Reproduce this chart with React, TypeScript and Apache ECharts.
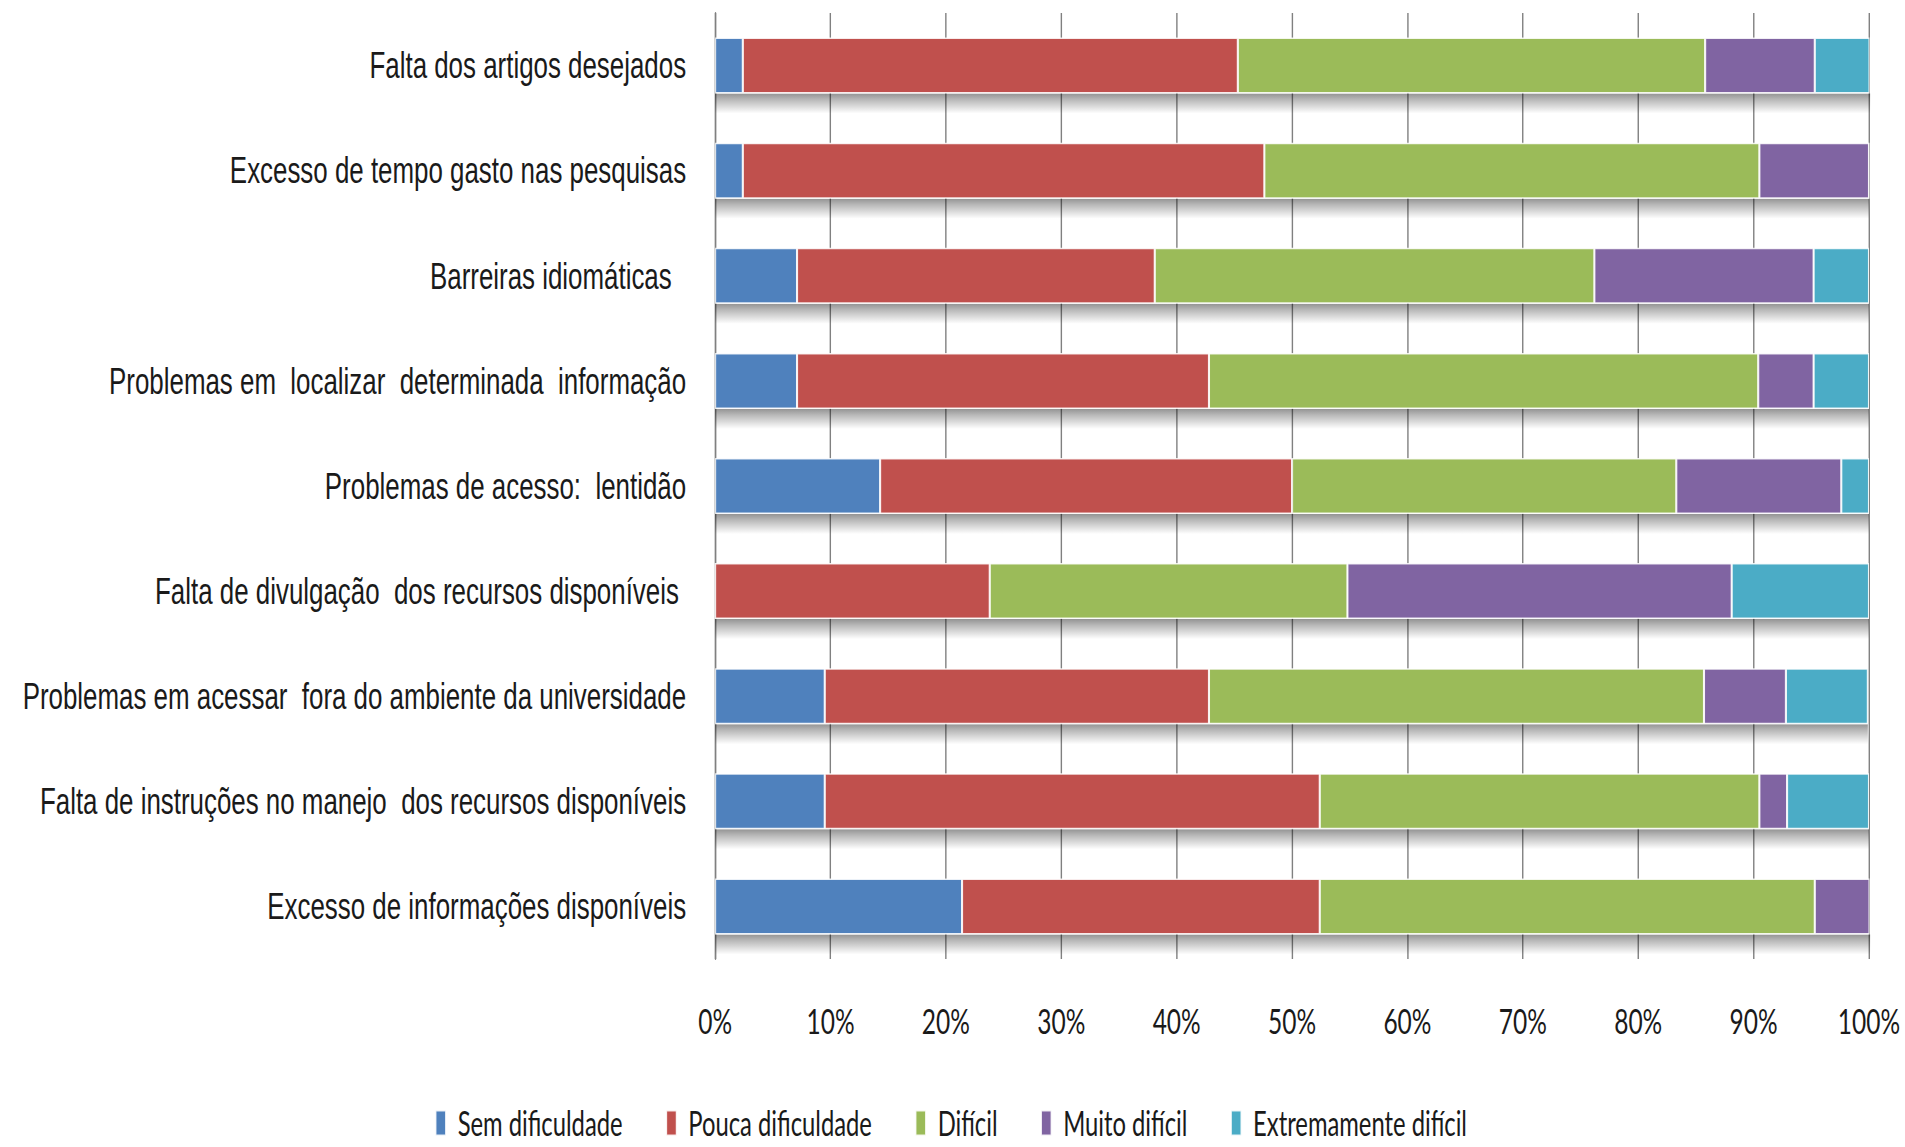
import React, { useEffect, useRef } from "react";
import * as echarts from "echarts";

const categories = [
  "Falta dos artigos desejados",
  "Excesso de tempo gasto nas pesquisas",
  "Barreiras idiomáticas  ",
  "Problemas em  localizar  determinada  informação",
  "Problemas de acesso:  lentidão",
  "Falta de divulgação  dos recursos disponíveis ",
  "Problemas em acessar  fora do ambiente da universidade",
  "Falta de instruções no manejo  dos recursos disponíveis",
  "Excesso de informações disponíveis",
];

const seriesNames = ["Sem dificuldade", "Pouca dificuldade", "Difícil", "Muito difícil", "Extremamente difícil"];

const semDificuldade = [2.4, 2.4, 7.1, 7.1, 14.3, 0, 9.5, 9.5, 21.4];
const poucaDificuldade = [42.9, 45.2, 31.0, 35.7, 35.7, 23.8, 33.3, 42.9, 31.0];
const dificil = [40.5, 42.9, 38.1, 47.6, 33.3, 31.0, 42.9, 38.1, 42.9];
const muitoDificil = [9.5, 9.5, 19.0, 4.8, 14.3, 33.3, 7.1, 2.4, 4.8];
const extremamenteDificil = [4.8, 0, 4.8, 4.8, 2.4, 11.9, 7.1, 7.1, 0];

const xTicks = [0, 10, 20, 30, 40, 50, 60, 70, 80, 90, 100];

const colors = ["#4F81BD", "#C0504D", "#9BBB59", "#8064A2", "#4BACC6"];

// The reference text is horizontally condensed; the whole chart is drawn wider and squeezed by K.
const PAGE_W = 1905;
const PAGE_H = 1147;
const K = 0.7;
const W = Math.round(PAGE_W / K);
const BAR_W = 56;

const LABEL_FONT = "'Liberation Sans', Arial, sans-serif";
const TICK_FONT = "Lato, 'Liberation Sans', sans-serif";

export default function App() {
  const ref = useRef<HTMLDivElement>(null);
  useEffect(() => {
    if (!ref.current) return;
    const chart = echarts.init(ref.current, undefined, { renderer: "svg" });
    const data = [semDificuldade, poucaDificuldade, dificil, muitoDificil, extremamenteDificil];
    const totals = categories.map((_, i) => [data.reduce((s, arr) => s + arr[i], 0), i]);
    chart.setOption({
      animation: false,
      backgroundColor: "#ffffff",
      color: colors,
      grid: {
        left: 715 / K,
        right: 36 / K,
        top: 13,
        bottom: 188,
        containLabel: false,
        outerBoundsMode: "none",
      },
      legend: {
        data: seriesNames,
        left: 435 / K,
        top: 1106,
        padding: 0,
        itemWidth: 10 / K,
        itemHeight: 25,
        itemGap: 43 / K,
        icon: "rect",
        textStyle: { fontFamily: TICK_FONT, fontSize: 34, color: "#1a1a1a", padding: [0, 0, 0, 12] },
      },
      xAxis: {
        type: "value",
        min: 0,
        max: 100,
        interval: 10,
        axisLine: { show: false },
        axisTick: { show: false },
        axisLabel: {
          fontFamily: TICK_FONT,
          fontSize: 35,
          color: "#1a1a1a",
          margin: 44,
          formatter: (v: number) => (xTicks.includes(v) ? v + "%" : ""),
        },
        splitLine: { show: true, lineStyle: { color: "#808080", width: 2 } },
      },
      yAxis: {
        type: "category",
        inverse: true,
        data: categories,
        axisLine: { show: true, lineStyle: { color: "#808080", width: 2 } },
        axisTick: { show: false },
        axisLabel: { fontFamily: LABEL_FONT, fontSize: 37, color: "#1a1a1a", margin: 29 / K },
      },
      series: [
        {
          name: "sombra",
          type: "custom",
          z: 1,
          silent: true,
          encode: { x: 0, y: 1 },
          data: totals,
          renderItem: (params: any, api: any) => {
            const start = api.coord([0, api.value(1)]);
            const end = api.coord([api.value(0), api.value(1)]);
            return {
              type: "rect",
              shape: { x: start[0], y: start[1] + BAR_W / 2, width: end[0] - start[0], height: 20 },
              style: {
                fill: new echarts.graphic.LinearGradient(0, 0, 0, 1, [
                  { offset: 0, color: "rgba(0,0,0,0.42)" },
                  { offset: 0.3, color: "rgba(0,0,0,0.28)" },
                  { offset: 1, color: "rgba(0,0,0,0)" },
                ]),
              },
            };
          },
        },
        ...seriesNames.map((name, i) => ({
          name,
          type: "bar",
          stack: "total",
          barWidth: BAR_W,
          z: 3,
          data: data[i],
          itemStyle: {
            color: colors[i],
            borderColor: "rgba(255,255,255,0.85)",
            borderWidth: 1.5,
          },
        })),
      ],
    });
    return () => chart.dispose();
  }, []);
  return (
    <div
      ref={ref}
      style={{
        position: "fixed",
        left: 0,
        top: 0,
        width: W,
        height: PAGE_H,
        background: "#fff",
        transform: `scaleX(${PAGE_W / W})`,
        transformOrigin: "0 0",
      }}
    />
  );
}
